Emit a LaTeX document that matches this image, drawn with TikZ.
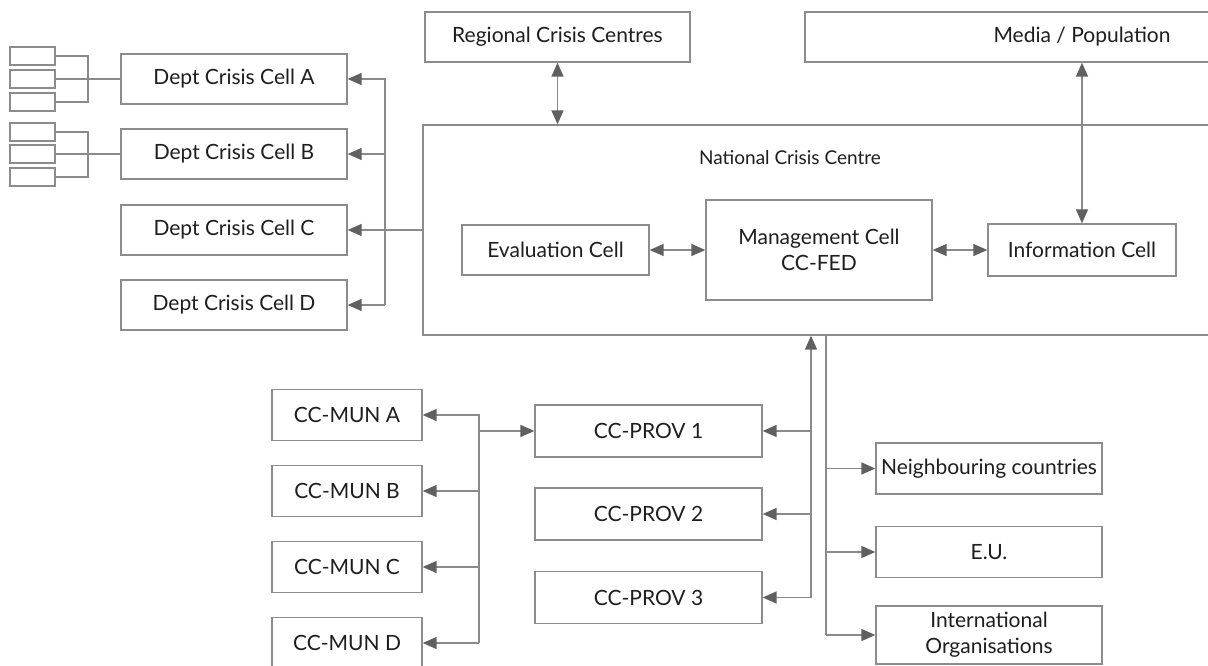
\documentclass[tikz,border=0pt]{standalone}
\usepackage{fontspec}
\setmainfont{Lato}
\usetikzlibrary{arrows.meta}
\definecolor{linec}{HTML}{8A8A8A}
\definecolor{tipc}{HTML}{606060}
\definecolor{boxc}{HTML}{8C8C8C}
\definecolor{txtc}{HTML}{1E1E1E}
\begin{document}
\begin{tikzpicture}[x=1pt,y=-1pt,
  box/.style={draw=boxc, line width=1.4pt, fill=white, text=txtc, font=\fontsize{21}{26}\selectfont, align=center, inner sep=0pt},
  small/.style={draw=boxc, line width=1.4pt, fill=white, inner sep=0pt, minimum width=45pt, minimum height=18pt},
  conn/.style={draw=linec, line width=1.7pt},
  tip/.tip={Triangle[length=14pt,width=12pt,color=tipc]},
  arr/.style={conn, -tip},
  darr/.style={conn, tip-tip},
]
\useasboundingbox (0,0) rectangle (1208,666);
\clip (0,0) rectangle (1208,666);
% small boxes
\node[small] (sA1) at (32.5,56) {};
\node[small] (sA2) at (32.5,79) {};
\node[small] (sA3) at (32.5,102) {};
\node[small] (sB1) at (32.5,132) {};
\node[small] (sB2) at (32.5,154) {};
\node[small] (sB3) at (32.5,177) {};
% dept cells
\node[box, minimum width=226pt, minimum height=50pt] (dA) at (234,79) {Dept Crisis Cell A};
\node[box, minimum width=226pt, minimum height=50pt] (dB) at (234,154) {Dept Crisis Cell B};
\node[box, minimum width=226pt, minimum height=50pt] (dC) at (234,230) {Dept Crisis Cell C};
\node[box, minimum width=226pt, minimum height=50pt] (dD) at (234,305) {Dept Crisis Cell D};
% top
\node[box, minimum width=265pt, minimum height=50pt] (rcc) at (557.5,37) {Regional Crisis Centres};
\node[box, minimum width=554pt, minimum height=50pt] (media) at (1082,37) {Media / Population};
% national
\node[box, minimum width=807pt, minimum height=210pt] (ncc) at (826.5,230) {};
\node[text=txtc, font=\fontsize{19}{23}\selectfont, inner sep=0pt] (nccT) at (790,158) {National Crisis Centre};
\node[box, minimum width=187pt, minimum height=50pt] (eval) at (555.5,250) {Evaluation Cell};
\node[box, minimum width=226pt, minimum height=100pt] (mgmt) at (819,250) {Management Cell\\CC-FED};
\node[box, minimum width=188pt, minimum height=52pt] (info) at (1082,250) {Information Cell};
% municipal
\node[box, minimum width=150pt, minimum height=51pt] (munA) at (347,415) {CC-MUN A};
\node[box, minimum width=150pt, minimum height=51pt] (munB) at (347,491) {CC-MUN B};
\node[box, minimum width=150pt, minimum height=51pt] (munC) at (347,567) {CC-MUN C};
\node[box, minimum width=150pt, minimum height=51pt] (munD) at (347,643) {CC-MUN D};
% provincial
\node[box, minimum width=227pt, minimum height=52pt] (prov1) at (648.5,431) {CC-PROV 1};
\node[box, minimum width=227pt, minimum height=52pt] (prov2) at (648.5,514) {CC-PROV 2};
\node[box, minimum width=227pt, minimum height=52pt] (prov3) at (648.5,597.5) {CC-PROV 3};
% external
\node[box, minimum width=226pt, minimum height=51pt] (nb) at (989,468.5) {Neighbouring countries};
\node[box, minimum width=226pt, minimum height=51pt] (eu) at (989,552) {E.U.};
\node[box, minimum width=226pt, minimum height=58pt] (io) at (989,635) {International\\Organisations};
% junction coordinates
\coordinate (jA) at (88,79);
\coordinate (jB) at (88,154);
\coordinate (bD) at (385,0);
\coordinate (bM) at (479,0);
\coordinate (bP) at (811,0);
\coordinate (bR) at (826,0);
% small box links
\draw[conn] (sA1.east) -| (jA);
\draw[conn] (sA3.east) -| (jA);
\draw[conn] (sA2.east) -- (dA.west);
\draw[conn] (sB1.east) -| (jB);
\draw[conn] (sB3.east) -| (jB);
\draw[conn] (sB2.east) -- (dB.west);
% dept bus
\draw[arr] (ncc.west) -- (dC.east);
\draw[arr] (bD |- dD.east) -- (bD |- dA.east) -- (dA.east);
\draw[arr] (bD |- dB.east) -- (dB.east);
\draw[arr] (bD |- dD.east) -- (dD.east);
% top links
\draw[darr] (rcc.south) -- (rcc.south |- ncc.north);
\draw[darr] (media.south) -- (info.north);
\draw[darr] (eval.east) -- (mgmt.west);
\draw[darr] (mgmt.east) -- (info.west);
% municipal bus
\draw[arr] (bM |- munD.east) -- (bM |- munA.east) -- (munA.east);
\draw[arr] (bM |- munB.east) -- (munB.east);
\draw[arr] (bM |- munC.east) -- (munC.east);
\draw[arr] (bM |- munD.east) -- (munD.east);
\draw[arr] (bM |- prov1.west) -- (prov1.west);
% provincial bus
\draw[arr] (bP |- prov3.east) -- (bP |- ncc.south);
\draw[arr] (bP |- prov1.east) -- (prov1.east);
\draw[arr] (bP |- prov2.east) -- (prov2.east);
\draw[arr] (bP |- prov3.east) -- (prov3.east);
% external bus
\draw[conn] (bR |- ncc.south) -- (bR |- io.west);
\draw[arr] (bR |- nb.west) -- (nb.west);
\draw[arr] (bR |- eu.west) -- (eu.west);
\draw[arr] (bR |- io.west) -- (io.west);
\end{tikzpicture}
\end{document}
